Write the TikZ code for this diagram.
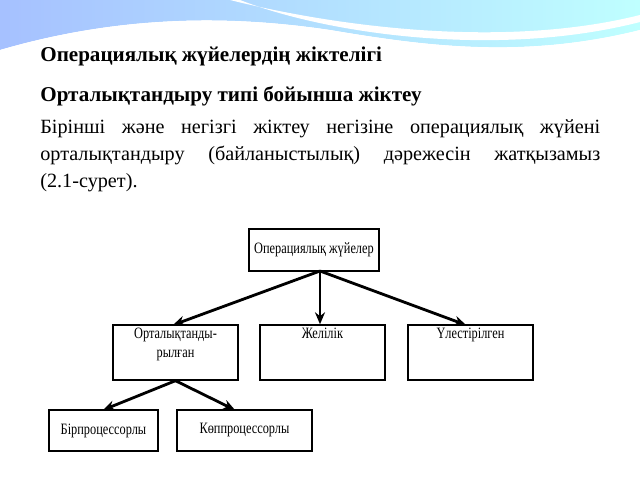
\documentclass[tikz,border=0pt]{standalone}
\usepackage{fontspec}
\setmainfont{Liberation Serif}
\newfontfamily\boxfont[FakeStretch=0.78]{Liberation Serif}
\usetikzlibrary{arrows.meta,positioning}

\begin{document}
\begin{tikzpicture}[
    x=0.02cm, y=-0.02cm,
    osbox/.style={rectangle, draw=black, thick, fill=white, inner sep=0pt, font=\boxfont\fontsize{9}{10}\selectfont, align=center},
    boxtext/.style={anchor=north, inner sep=2pt, font=\boxfont\fontsize{9}{11}\selectfont, align=center},
    para/.style={anchor=north west, inner sep=0pt, font=\fontsize{11.5}{15.5}\selectfont, align=justify, text width=11.2cm},
    link/.style={-{Stealth[length=2.4mm,width=2mm]}, line width=1.6pt},
]
    \useasboundingbox (0,0) rectangle (640,480);
    % slide decoration
    \shade[left color=cyan!30!blue!35, right color=cyan!25] (0,0) -- (640,0) -- (640,30)
        .. controls (520,60) and (420,45) .. (330,30)
        .. controls (230,15) and (120,15) .. (0,50) -- cycle;
    \fill[white] (230,0) .. controls (330,25) and (500,50) .. (640,15) -- (640,22)
        .. controls (500,58) and (330,35) .. (240,0) -- cycle;
    \fill[white] (0,50) .. controls (120,15) and (230,15) .. (330,30)
        .. controls (420,45) and (520,60) .. (640,30) -- (640,480) -- (0,480) -- cycle;
    % text
    \node[para, font=\fontsize{12}{14}\selectfont\bfseries] (title) at (40,47) {Операциялық жүйелердің жіктелігі};
    \node[para, font=\fontsize{12}{14}\selectfont\bfseries] (sub) at (40,86) {Орталықтандыру типі бойынша жіктеу};
    \node[para] (body) at (40,119) {Бірінші және негізгі жіктеу негізіне операциялық жүйені орталықтандыру (байланыстылық) дәрежесін жатқызамыз \mbox{(2.1-сурет).}};
    % diagram
    \node[osbox, minimum width=130*0.02cm, minimum height=42*0.02cm] (os) at (314,250) {Операциялық жүйелер};
    \node[osbox, minimum width=125*0.02cm, minimum height=55*0.02cm] (cent) at (175.5,352.5) {};
    \node[boxtext] at (cent.north) {Орталықтанды-\\рылған};
    \node[osbox, minimum width=125*0.02cm, minimum height=55*0.02cm] (net) at (322.5,352.5) {};
    \node[boxtext] at (net.north) {Желілік};
    \node[osbox, minimum width=125*0.02cm, minimum height=55*0.02cm] (dist) at (470.5,352.5) {};
    \node[boxtext] at (dist.north) {Үлестірілген};
    \node[osbox, minimum width=109*0.02cm, minimum height=41*0.02cm] (single) at (103.5,430.5) {Бірпроцессорлы};
    \node[osbox, minimum width=135*0.02cm, minimum height=41*0.02cm] (multi) at (244.5,430.5) {Көппроцессорлы};

    \coordinate (osb) at (320,271);
    \draw[link] (osb) -- (173,325);
    \draw[link] (osb) -- (net.north -| osb);
    \draw[link] (osb) -- (466,325);
    \draw[link] (cent.south) -- (103,410);
    \draw[link] (cent.south) -- (235,410);
\end{tikzpicture}
\end{document}
